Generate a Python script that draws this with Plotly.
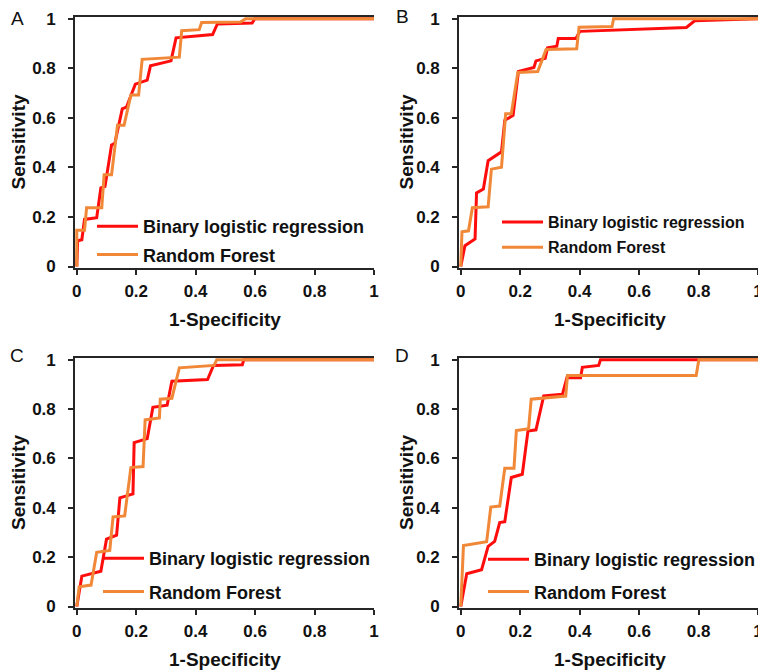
import plotly.graph_objects as go

# ---------------- data ----------------
panel_labels = ["A", "B", "C", "D"]
series_names = ["Binary logistic regression", "Random Forest"]
tick_vals = [0, 0.2, 0.4, 0.6, 0.8, 1]
tick_text = ["0", "0.2", "0.4", "0.6", "0.8", "1"]

# Panel A
a_blr_fpr = [0, 0.003, 0.017, 0.026, 0.067, 0.081, 0.095, 0.117, 0.128, 0.153, 0.167, 0.197, 0.237, 0.248, 0.317, 0.334, 0.457, 0.473, 0.59, 0.599, 1.0]
a_blr_tpr = [0, 0.104, 0.108, 0.19, 0.197, 0.317, 0.323, 0.49, 0.497, 0.636, 0.643, 0.736, 0.752, 0.81, 0.83, 0.923, 0.936, 0.979, 0.983, 1.0, 1.0]
a_rf_fpr = [0, 0.0, 0.026, 0.033, 0.084, 0.092, 0.117, 0.137, 0.159, 0.182, 0.208, 0.22, 0.345, 0.353, 0.412, 0.42, 0.551, 0.568, 1.0]
a_rf_tpr = [0, 0.146, 0.146, 0.237, 0.237, 0.37, 0.37, 0.57, 0.57, 0.692, 0.692, 0.836, 0.845, 0.952, 0.956, 0.985, 0.987, 1.0, 1.0]

# Panel B
b_blr_fpr = [0, 0.014, 0.048, 0.053, 0.076, 0.092, 0.137, 0.148, 0.176, 0.194, 0.246, 0.253, 0.284, 0.292, 0.323, 0.328, 0.387, 0.401, 0.759, 0.787, 1.0]
b_blr_tpr = [0, 0.084, 0.111, 0.297, 0.313, 0.427, 0.463, 0.59, 0.61, 0.787, 0.803, 0.83, 0.84, 0.883, 0.889, 0.92, 0.92, 0.949, 0.965, 0.992, 1.0]
b_rf_fpr = [0, 0.004, 0.026, 0.039, 0.092, 0.103, 0.137, 0.151, 0.17, 0.192, 0.259, 0.287, 0.39, 0.398, 0.509, 0.514, 1.0]
b_rf_tpr = [0, 0.14, 0.144, 0.237, 0.241, 0.393, 0.401, 0.617, 0.617, 0.783, 0.787, 0.876, 0.879, 0.966, 0.969, 1.0, 1.0]

# Panel C
c_blr_fpr = [0, 0.017, 0.081, 0.089, 0.1, 0.134, 0.145, 0.189, 0.193, 0.237, 0.256, 0.304, 0.32, 0.44, 0.46, 0.557, 0.562, 1.0]
c_blr_tpr = [0, 0.123, 0.143, 0.196, 0.273, 0.289, 0.44, 0.456, 0.664, 0.68, 0.807, 0.816, 0.913, 0.92, 0.977, 0.98, 1.0, 1.0]
c_rf_fpr = [0, 0.008, 0.048, 0.067, 0.111, 0.122, 0.161, 0.182, 0.223, 0.23, 0.278, 0.281, 0.32, 0.345, 0.462, 0.471, 1.0]
c_rf_tpr = [0, 0.08, 0.087, 0.22, 0.227, 0.363, 0.367, 0.563, 0.567, 0.756, 0.764, 0.84, 0.844, 0.967, 0.977, 1.0, 1.0]

# Panel D
d_blr_fpr = [0, 0.02, 0.07, 0.092, 0.114, 0.131, 0.148, 0.17, 0.207, 0.226, 0.253, 0.279, 0.342, 0.357, 0.403, 0.409, 0.464, 0.47, 1.0]
d_blr_tpr = [0, 0.133, 0.149, 0.244, 0.264, 0.34, 0.344, 0.523, 0.536, 0.711, 0.716, 0.853, 0.86, 0.927, 0.927, 0.969, 0.977, 1.0, 1.0]
d_rf_fpr = [0, 0.009, 0.087, 0.101, 0.131, 0.148, 0.179, 0.187, 0.228, 0.237, 0.353, 0.359, 0.792, 0.801, 1.0]
d_rf_tpr = [0, 0.247, 0.263, 0.403, 0.407, 0.56, 0.56, 0.713, 0.72, 0.84, 0.853, 0.936, 0.936, 1.0, 1.0]

panels = [
    (a_blr_fpr, a_blr_tpr, a_rf_fpr, a_rf_tpr),
    (b_blr_fpr, b_blr_tpr, b_rf_fpr, b_rf_tpr),
    (c_blr_fpr, c_blr_tpr, c_rf_fpr, c_rf_tpr),
    (d_blr_fpr, d_blr_tpr, d_rf_fpr, d_rf_tpr),
]

# ---------------- layout geometry ----------------
W, H = 758, 670
RED = "#FF0D0D"
ORANGE = "#F08838"
FONT = "Arial, 'Liberation Sans', sans-serif"
AXC = "#262626"

# pixel boxes of each plot area: (left, right, top, bottom)
boxes = [(75, 374, 17, 268), (459, 758, 17, 268), (75, 374, 358, 608), (459, 758, 358, 608)]
# legend boxes: (left px, top px, gap, font size)
legend_pos = [(92, 208, 2, 18), (497, 205, 1.5, 16), (98, 540, 7, 18), (483, 541, 6, 18)]
letter_pos = [(17, 18), (402, 17), (17, 355), (402, 355)]
ytitle_x = [18, 406, 18, 406]

fig = go.Figure()
layout = dict(
    width=W, height=H,
    margin=dict(l=0, r=0, t=0, b=0, autoexpand=False),
    paper_bgcolor="white", plot_bgcolor="white",
    showlegend=True,
    annotations=[],
)

for i, (bf, bt, rf, rt) in enumerate(panels):
    n = "" if i == 0 else str(i + 1)
    lg = "legend" if i == 0 else f"legend{i + 1}"
    fig.add_trace(go.Scatter(x=bf, y=bt, mode="lines", name=series_names[0],
                             line=dict(color=RED, width=3), xaxis="x" + n, yaxis="y" + n,
                             legend=lg, legendgroup=f"g{i}a"))
    fig.add_trace(go.Scatter(x=rf, y=rt, mode="lines", name=series_names[1],
                             line=dict(color=ORANGE, width=3), xaxis="x" + n, yaxis="y" + n,
                             legend=lg, legendgroup=f"g{i}b"))
    l, r, t, b = boxes[i]
    common = dict(showgrid=False, zeroline=False, showline=True, linecolor=AXC, linewidth=1.6,
                  ticks="outside", ticklen=5, tickwidth=1.6, tickcolor=AXC,
                  tickmode="array", tickvals=tick_vals, ticktext=tick_text,
                  tickfont=dict(family=FONT, size=17, color="#111", weight="bold"),
                  layer="below traces", automargin=False, ticklabeloverflow="allow")
    layout["xaxis" + n] = dict(common, domain=[l / W, r / W], range=[-0.006, 1.0],
                               anchor="y" + n, mirror=True, ticklabelstandoff=2)
    layout["yaxis" + n] = dict(common, domain=[(H - b) / H, (H - t) / H], range=[-0.006, 1.007],
                               anchor="x" + n, ticklabelstandoff=9)
    lx, ly, gap, fs = legend_pos[i]
    layout[lg] = dict(x=lx / W, y=(H - ly) / H, xanchor="left", yanchor="top",
                      bgcolor="rgba(0,0,0,0)", borderwidth=0, tracegroupgap=gap,
                      traceorder="grouped", itemwidth=41,
                      font=dict(family=FONT, size=fs, color="#111", weight="bold"))
    layout["annotations"].append(dict(text="<b>1-Specificity</b>", x=((l + 1 + 300 / 2) if i % 2 else (l + r) / 2) / W,
                                      y=(H - (b + 51)) / H, xref="paper", yref="paper",
                                      showarrow=False, xanchor="center", yanchor="middle",
                                      font=dict(family=FONT, size=19, color="#111")))
    layout["annotations"].append(dict(text="<b>Sensitivity</b>", x=ytitle_x[i] / W,
                                      y=(H - (t + b) / 2) / H, xref="paper", yref="paper",
                                      showarrow=False, xanchor="center", yanchor="middle", textangle=-90,
                                      font=dict(family=FONT, size=19, color="#111")))
    px_, py_ = letter_pos[i]
    layout["annotations"].append(dict(text=panel_labels[i], x=px_ / W, y=(H - py_) / H,
                                      xref="paper", yref="paper", showarrow=False,
                                      xanchor="center", yanchor="middle",
                                      font=dict(family=FONT, size=19, color="#111")))

fig.update_layout(**layout)
fig.write_html("out.html")
